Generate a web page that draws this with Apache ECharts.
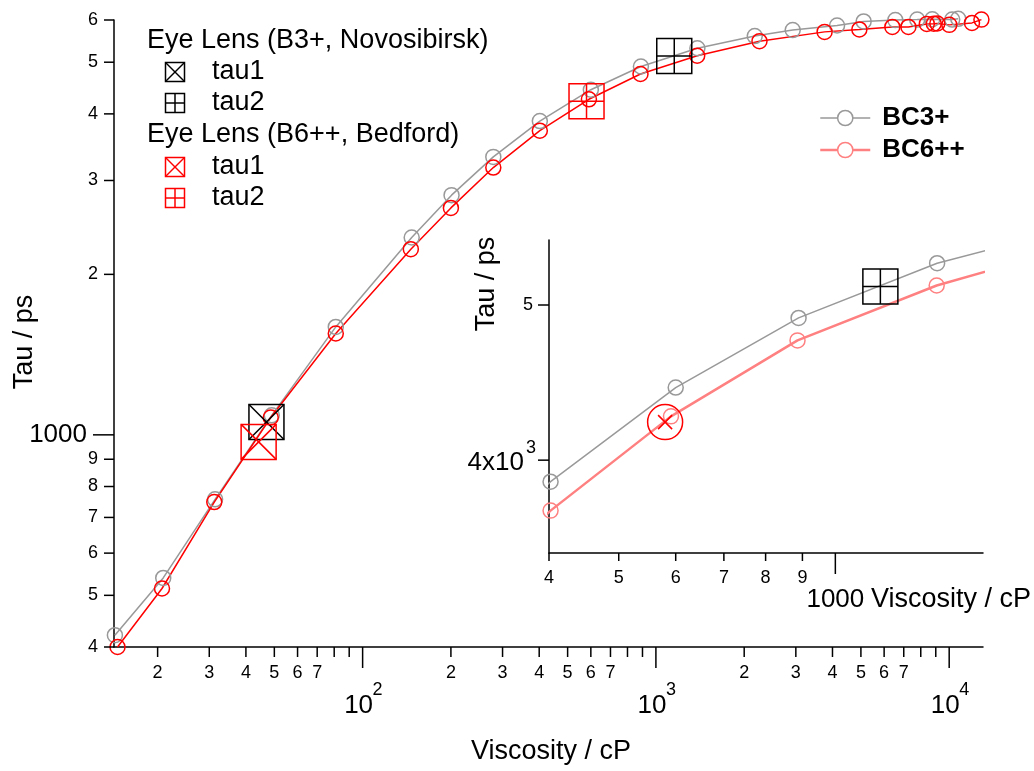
<!DOCTYPE html>
<html>
<head>
<meta charset="utf-8">
<script src="https://cdn.jsdelivr.net/npm/echarts@6/dist/echarts.min.js"></script>
<style>
html, body { margin: 0; padding: 0; background: #fff; }
#chart { width: 1034px; height: 771px; }
</style>
</head>
<body>
<div id="chart"></div>
<script>
// Fluorescence lifetime of the rotor dyes versus solvent viscosity
const bc3Visc = [14.3, 20.9, 31.4, 49.0, 81.0, 147, 201, 279, 402, 600, 889, 1385, 2173, 2927, 4147, 5109, 6551, 7780, 8757, 10240, 10735];
const bc3Tau  = [421, 539, 757, 1088, 1594, 2345, 2816, 3322, 3878, 4440, 4908, 5310, 5597, 5744, 5860, 5963, 5997, 6010, 6020, 6010, 6030];
const bc6Visc = [14.6, 20.7, 31.2, 48.6, 81.0, 146, 200, 279, 402, 591, 886, 1383, 2255, 3760, 4940, 6400, 7260, 8390, 8860, 9110, 10010, 11960, 12880];
const bc6Tau  = [400, 515, 748, 1078, 1549, 2230, 2665, 3172, 3720, 4260, 4752, 5142, 5476, 5700, 5760, 5823, 5823, 5900, 5905, 5910, 5875, 5925, 6010];

// Eye lens measurements: [viscosity, tau]
const lensB3Tau1 = [47.0, 1057];
const lensB3Tau2 = [1155, 5135];
const lensB6Tau1 = [44.2, 970];
const lensB6Tau2 = [580, 4225];

// Axis ranges
const mainXRange = [14.2, 13040];
const mainYRange = [400, 6000];
const insetXRange = [400, 1604];
const insetYRange = [3500, 5490];

// Tick positions and labels
const mainXMinor = [20, 30, 40, 50, 60, 70, 80, 90, 200, 300, 400, 500, 600, 700, 800, 900, 2000, 3000, 4000, 5000, 6000, 7000, 8000, 9000];
const mainXMinorLabels = ['2', '3', '4', '5', '6', '7', '', '', '2', '3', '4', '5', '6', '7', '', '', '2', '3', '4', '5', '6', '7', '', ''];
const mainXMajor = [100, 1000, 10000];
const mainXMajorExp = ['2', '3', '4'];
const mainYMinor = [400, 500, 600, 700, 800, 900, 2000, 3000, 4000, 5000, 6000];
const mainYMinorLabels = ['4', '5', '6', '7', '8', '9', '2', '3', '4', '5', '6'];
const mainYMajor = [1000];
const mainYMajorLabels = ['1000'];
const insetXMinor = [400, 500, 600, 700, 800, 900];
const insetXMinorLabels = ['4', '5', '6', '7', '8', '9'];
const insetXMajor = [1000];
const insetXMajorLabels = ['1000'];
const insetYMinor = [5000];
const insetYMinorLabels = ['5'];
const insetYMajor = [4000];
const insetYMajorLabels = [['4x10', '3']];

const FONT = '"Liberation Sans", Arial, Helvetica, sans-serif';
const TITLE = 27, BIG = 26, SMALL = 18;
const GRAY = '#999999', RED = '#ff0000', SALMON = '#ff8080';

const chart = echarts.init(document.getElementById('chart'), null, { renderer: 'canvas' });

const zip = (xs, ys) => xs.map((x, i) => [x, ys[i]]);

function seg(x1, y1, x2, y2, color, w) {
  return { type: 'line', shape: { x1, y1, x2, y2 }, style: { stroke: color || '#000', lineWidth: w || 1.5 } };
}
function txt(s, x, y, size, align, weight) {
  return {
    type: 'text', x, y,
    style: { text: s, fontSize: size, fontFamily: FONT, fontWeight: weight || 'normal', fill: '#000', align: align || 'center', verticalAlign: 'middle' }
  };
}
function boxCross(cx, cy, s, color, kind) {
  const h = s / 2;
  const parts = [{ type: 'rect', shape: { x: cx - h, y: cy - h, width: s, height: s }, style: { fill: 'none', stroke: color, lineWidth: 1.5 } }];
  if (kind === 'x') {
    parts.push(seg(cx - h, cy - h, cx + h, cy + h, color), seg(cx + h, cy - h, cx - h, cy + h, color));
  } else {
    parts.push(seg(cx, cy - h, cx, cy + h, color), seg(cx - h, cy, cx + h, cy, color));
  }
  return parts;
}

// Axis ticks drawn through the axis scales
function tickSeries(grid, dir, values, draw) {
  const base = dir === 'x' ? (grid === 0 ? mainYRange[0] : insetYRange[0]) : (grid === 0 ? mainXRange[0] : insetXRange[0]);
  return {
    type: 'custom', xAxisIndex: grid, yAxisIndex: grid, clip: false, silent: true, z: 5,
    data: values.map(v => dir === 'x' ? [v, base] : [base, v]),
    renderItem: (params, api) => {
      const p = api.coord([api.value(0), api.value(1)]);
      return { type: 'group', children: draw(p, params.dataIndex) };
    }
  };
}

// Lens markers drawn at data coordinates
function markerSeries(grid, point, color, kind, size) {
  return {
    type: 'custom', xAxisIndex: grid, yAxisIndex: grid, clip: false, silent: true, z: 4,
    data: [point],
    renderItem: (params, api) => {
      const p = api.coord([api.value(0), api.value(1)]);
      let children;
      if (kind === 'circx') {
        const a = 7;
        children = [
          { type: 'circle', shape: { cx: p[0], cy: p[1], r: size / 2 }, style: { fill: 'none', stroke: color, lineWidth: 1.5 } },
          seg(p[0] - a, p[1] - a, p[0] + a, p[1] + a, color), seg(p[0] + a, p[1] - a, p[0] - a, p[1] + a, color)
        ];
      } else {
        children = boxCross(p[0], p[1], size, color, kind);
      }
      return { type: 'group', children };
    }
  };
}

function lineSeries(name, grid, xs, ys, color, width) {
  return {
    name, type: 'line', xAxisIndex: grid, yAxisIndex: grid,
    data: zip(xs, ys),
    symbol: 'circle', symbolSize: 15, showSymbol: true, showAllSymbol: true,
    clip: grid === 1,
    lineStyle: { color, width },
    itemStyle: { color: 'transparent', borderColor: color, borderWidth: 1.5 },
    emphasis: { disabled: true },
    z: 3
  };
}

const axisLineStyle = { show: true, onZero: false, lineStyle: { color: '#000', width: 1.5 } };
const logAxis = (grid, range) => ({
  type: 'log', logBase: 10, gridIndex: grid, min: range[0], max: range[1],
  axisLine: axisLineStyle, axisTick: { show: false }, axisLabel: { show: false },
  splitLine: { show: false }, minorTick: { show: false }
});

const legendGraphics = [
  txt('Eye Lens (B3+, Novosibirsk)', 147, 41, TITLE, 'left'),
  { type: 'group', children: boxCross(175, 72, 19, '#000', 'x') },
  txt('tau1', 212, 72, TITLE, 'left'),
  { type: 'group', children: boxCross(175, 103, 19, '#000', 'plus') },
  txt('tau2', 212, 103, TITLE, 'left'),
  txt('Eye Lens (B6++, Bedford)', 147, 135, TITLE, 'left'),
  { type: 'group', children: boxCross(175, 167, 19, RED, 'x') },
  txt('tau1', 212, 167, TITLE, 'left'),
  { type: 'group', children: boxCross(175, 198, 19, RED, 'plus') },
  txt('tau2', 212, 198, TITLE, 'left')
];

const option = {
  animation: false,
  backgroundColor: '#fff',
  grid: [
    { left: 114, top: 20, width: 869, height: 627 },
    { left: 549, top: 240, width: 434, height: 313 }
  ],
  xAxis: [logAxis(0, mainXRange), logAxis(1, insetXRange)],
  yAxis: [logAxis(0, mainYRange), logAxis(1, insetYRange)],
  legend: {
    data: [
      { name: 'BC3+', itemStyle: { color: '#fff', borderColor: GRAY, borderWidth: 1.5 }, lineStyle: { color: GRAY, width: 1.5 } },
      { name: 'BC6++', itemStyle: { color: '#fff', borderColor: SALMON, borderWidth: 1.5 }, lineStyle: { color: SALMON, width: 2.5 } }
    ],
    orient: 'vertical', left: 819, top: 105, padding: 0,
    itemWidth: 50, itemHeight: 19, itemGap: 6,
    selectedMode: false,
    textStyle: { fontFamily: FONT, fontSize: 26, fontWeight: 'bold', color: '#000', padding: [0, 0, 0, 7] }
  },
  graphic: [
    txt('Viscosity / cP', 551, 752, TITLE, 'center'),
    Object.assign(txt('Tau / ps', 25, 342, TITLE, 'center'), { rotation: Math.PI / 2 }),
    Object.assign(txt('Tau / ps', 487, 284, TITLE, 'center'), { rotation: Math.PI / 2 }),
    txt('Viscosity / cP', 871, 600, TITLE, 'left'),
    ...legendGraphics
  ],
  series: [
    // inset curves (listed first so the legend takes their style)
    lineSeries('BC3+', 1, bc3Visc, bc3Tau, GRAY, 1.5),
    lineSeries('BC6++', 1, bc6Visc, bc6Tau, SALMON, 2.5),
    // main curves
    lineSeries('BC3+', 0, bc3Visc, bc3Tau, GRAY, 1.5),
    lineSeries('BC6++', 0, bc6Visc, bc6Tau, RED, 1.5),
    // eye lens markers
    markerSeries(0, lensB3Tau1, '#000', 'x', 35),
    markerSeries(0, lensB6Tau1, RED, 'x', 35),
    markerSeries(0, lensB3Tau2, '#000', 'plus', 35),
    markerSeries(0, lensB6Tau2, RED, 'plus', 35),
    markerSeries(1, lensB3Tau2, '#000', 'plus', 35),
    markerSeries(1, lensB6Tau2, RED, 'circx', 35),
    // main axis ticks
    tickSeries(0, 'x', mainXMinor, (p, i) => [seg(p[0], p[1], p[0], p[1] + 10), txt(mainXMinorLabels[i], p[0], p[1] + 26, SMALL)]),
    tickSeries(0, 'x', mainXMajor, (p, i) => [seg(p[0], p[1], p[0], p[1] + 21), txt('10', p[0] - 4, p[1] + 59, BIG, 'center'), txt(mainXMajorExp[i], p[0] + 10, p[1] + 43, SMALL, 'left')]),
    tickSeries(0, 'y', mainYMinor, (p, i) => [seg(p[0] - 10, p[1], p[0], p[1]), txt(mainYMinorLabels[i], p[0] - 16, p[1], SMALL, 'right')]),
    tickSeries(0, 'y', mainYMajor, (p, i) => [seg(p[0] - 21, p[1], p[0], p[1]), txt(mainYMajorLabels[i], p[0] - 27, p[1], BIG, 'right')]),
    // inset axis ticks
    tickSeries(1, 'x', insetXMinor, (p, i) => [seg(p[0], p[1], p[0], p[1] + 8), txt(insetXMinorLabels[i], p[0], p[1] + 25, SMALL)]),
    tickSeries(1, 'x', insetXMajor, (p, i) => [seg(p[0], p[1], p[0], p[1] + 21), txt(insetXMajorLabels[i], p[0], p[1] + 47, BIG)]),
    tickSeries(1, 'y', insetYMinor, (p, i) => [seg(p[0] - 11, p[1], p[0], p[1]), txt(insetYMinorLabels[i], p[0] - 16, p[1], SMALL, 'right')]),
    tickSeries(1, 'y', insetYMajor, (p, i) => [seg(p[0] - 11, p[1], p[0], p[1]), txt(insetYMajorLabels[i][0], p[0] - 25, p[1] + 3, BIG, 'right'), txt(insetYMajorLabels[i][1], p[0] - 23, p[1] - 12, SMALL, 'left')])
  ]
};

chart.setOption(option);
</script>
</body>
</html>
